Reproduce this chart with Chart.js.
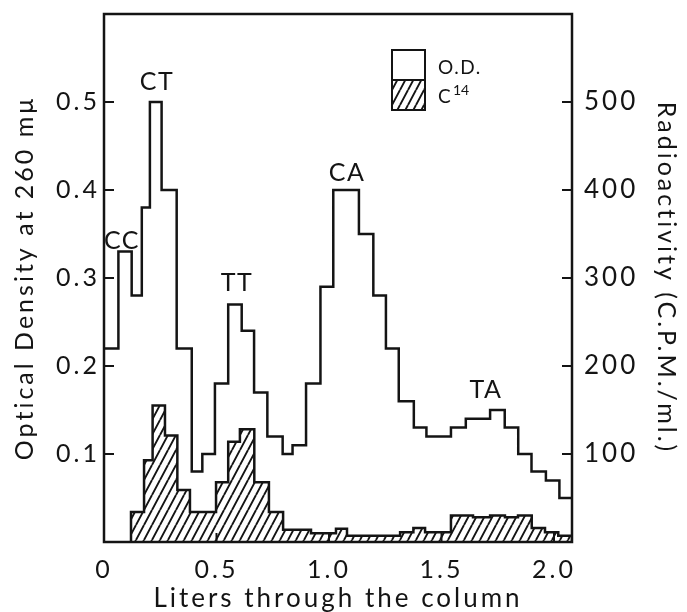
<!DOCTYPE html>
<html lang="en">
<head>
<meta charset="UTF-8">
<title>O.D. and C14 through the column</title>
<script src="https://cdn.jsdelivr.net/npm/chart.js"></script>
<style>
  html, body { margin: 0; padding: 0; background: #fff; }
  canvas { display: block; }
</style>
</head>
<body>
<canvas id="chart" width="687" height="612"></canvas>
<script>
// O.D. at 260 mu, bin edges in liters (one more edge than values)
const odEdges = [0, 0.064, 0.123, 0.168, 0.204, 0.256, 0.323, 0.390, 0.437, 0.493,
                 0.552, 0.612, 0.667, 0.726, 0.794, 0.838, 0.898, 0.962, 1.019, 1.133,
                 1.197, 1.253, 1.310, 1.377, 1.433, 1.542, 1.608, 1.716, 1.781, 1.841,
                 1.900, 1.964, 2.024, 2.08];
const odValues = [0.22, 0.33, 0.28, 0.38, 0.50, 0.40, 0.22, 0.08, 0.10, 0.18,
                  0.27, 0.24, 0.17, 0.12, 0.10, 0.11, 0.18, 0.29, 0.40, 0.35,
                  0.28, 0.22, 0.16, 0.13, 0.12, 0.13, 0.14, 0.15, 0.13, 0.10,
                  0.08, 0.07, 0.05];

// C14 radioactivity (C.P.M./ml.), bin edges in liters
const c14Edges = [0.120, 0.178, 0.216, 0.271, 0.326, 0.382, 0.498, 0.552, 0.604, 0.668,
                  0.733, 0.796, 0.920, 1.031, 1.080, 1.316, 1.375, 1.427, 1.542, 1.640,
                  1.716, 1.782, 1.840, 1.901, 1.960, 2.019, 2.080];
const c14Cpm = [34, 93, 155, 121, 59, 34, 68, 114, 128, 68,
                34, 14, 10, 15, 7, 11, 16, 11, 30, 28,
                30, 28, 30, 16, 11, 7];

const xTicks = [0, 0.5, 1.0, 1.5, 2.0];
const odTicks = [0.1, 0.2, 0.3, 0.4, 0.5];
const cpmTicks = [100, 200, 300, 400, 500];

// peak names and where they sit (liters, O.D.)
const peakNames = ['CC', 'CT', 'TT', 'CA', 'TA'];
const peakX = [0.080, 0.236, 0.591, 1.080, 1.698];
const peakY = [0.342, 0.523, 0.294, 0.419, 0.173];

const INK = '#141414';
Chart.defaults.font.family = 'Lato, "DejaVu Sans", sans-serif';
Chart.defaults.color = INK;

// diagonal hatching for the C14 bars
function makeHatch(ctx) {
    const tile = document.createElement('canvas');
    const w = 8, h = 15;
    tile.width = w; tile.height = h;
    const t = tile.getContext('2d');
    t.strokeStyle = INK;
    t.lineWidth = 1.9;
    t.beginPath();
    for (let k = -w; k <= w; k += w) {
        t.moveTo(k, h);
        t.lineTo(k + w, 0);
    }
    t.stroke();
    return ctx.createPattern(tile, 'repeat');
}

const canvas = document.getElementById('chart');
const hatch = makeHatch(canvas.getContext('2d'));

// stepped 'before': each segment keeps the previous point's value
const odPoints = odEdges.map((e, i) => ({x: e, y: odValues[Math.min(i, odValues.length - 1)]}));
const c14Points = [{x: c14Edges[0], y: 0}]
    .concat(c14Cpm.map((v, i) => ({x: c14Edges[i], y: v})))
    .concat([{x: c14Edges[c14Edges.length - 1], y: 0}]);

const noPad = s => { s.paddingTop = 0; s.paddingBottom = 0; s.paddingLeft = 0; s.paddingRight = 0; };

// frame, inward ticks, peak names and the little legend
const paperMarks = {
    id: 'paperMarks',
    beforeDraw(chart) {
        chart.ctx.letterSpacing = '3px';
    },
    afterDraw(chart) {
        const {ctx, chartArea: a, scales} = chart;
        ctx.save();
        ctx.strokeStyle = INK;
        ctx.fillStyle = INK;

        ctx.lineWidth = 2;
        ctx.beginPath();
        scales.x.ticks.forEach(t => {
            const px = scales.x.getPixelForValue(t.value);
            ctx.moveTo(px, a.bottom);
            ctx.lineTo(px, a.bottom - 9);
        });
        scales.y.ticks.forEach(t => {
            const py = scales.y.getPixelForValue(t.value);
            ctx.moveTo(a.left, py);
            ctx.lineTo(a.left + 10, py);
        });
        scales.y2.ticks.forEach(t => {
            const py = scales.y2.getPixelForValue(t.value);
            ctx.moveTo(a.right, py);
            ctx.lineTo(a.right - 10, py);
        });
        ctx.stroke();

        ctx.lineWidth = 2.5;
        ctx.strokeRect(a.left, a.top, a.right - a.left, a.bottom - a.top);

        ctx.letterSpacing = '1.5px';
        ctx.font = '25px Lato';
        ctx.textAlign = 'center';
        ctx.textBaseline = 'middle';
        peakNames.forEach((n, i) => {
            ctx.fillText(n, scales.x.getPixelForValue(peakX[i]), scales.y.getPixelForValue(peakY[i]));
        });

        // legend
        const lx = a.left + 288, ly = a.top + 36, bw = 33, bh = 30;
        ctx.fillStyle = '#fff';
        ctx.fillRect(lx, ly, bw, bh);
        ctx.fillStyle = hatch;
        ctx.fillRect(lx, ly + bh, bw, bh);
        ctx.lineWidth = 2;
        ctx.strokeRect(lx, ly, bw, bh * 2);
        ctx.beginPath();
        ctx.moveTo(lx, ly + bh);
        ctx.lineTo(lx + bw, ly + bh);
        ctx.stroke();
        ctx.fillStyle = INK;
        ctx.textAlign = 'left';
        ctx.letterSpacing = '1.5px';
        ctx.font = '19px Lato';
        ctx.fillText(chart.data.datasets[0].label, lx + 46, ly + 18);
        ctx.fillText('C', lx + 46, ly + bh + 17);
        ctx.letterSpacing = '0px';
        ctx.font = '14px Lato';
        ctx.fillText('14', lx + 61, ly + bh + 10);
        ctx.restore();
    }
};

new Chart(canvas, {
    type: 'line',
    data: {
        datasets: [{
            label: 'O.D.',
            data: odPoints,
            yAxisID: 'y',
            stepped: 'before',
            borderColor: INK,
            borderWidth: 2.5,
            borderJoinStyle: 'miter',
            pointRadius: 0,
            fill: false,
            order: 0
        }, {
            label: 'C14',
            data: c14Points,
            yAxisID: 'y2',
            stepped: 'before',
            borderColor: INK,
            borderWidth: 2.5,
            borderJoinStyle: 'miter',
            backgroundColor: hatch,
            pointRadius: 0,
            fill: 'origin',
            order: 1
        }]
    },
    options: {
        responsive: false,
        animation: false,
        layout: {padding: {top: 14, left: 0, right: 0, bottom: 0}},
        plugins: {legend: {display: false}, tooltip: {enabled: false}},
        scales: {
            x: {
                type: 'linear',
                min: 0,
                max: 2.08,
                afterBuildTicks: s => { s.ticks = xTicks.map(v => ({value: v})); },
                afterFit: s => { s.height = 70; noPad(s); },
                grid: {display: false, drawTicks: false},
                border: {display: false},
                ticks: {
                    padding: 13,
                    font: {size: 25},
                    callback: v => v === 0 ? '0' : v.toFixed(1)
                },
                title: {
                    display: true,
                    text: 'Liters through the column',
                    font: {size: 26, lineHeight: 1},
                    padding: {top: 0, bottom: 0}
                }
            },
            y: {
                position: 'left',
                min: 0,
                max: 0.6,
                afterBuildTicks: s => { s.ticks = odTicks.map(v => ({value: v})); },
                afterFit: s => { s.width = 104; noPad(s); },
                grid: {display: false, drawTicks: false},
                border: {display: false},
                ticks: {padding: 4, font: {size: 25}, callback: v => v.toFixed(1)},
                title: {
                    display: true,
                    text: 'Optical Density at 260 m\u03bc',
                    font: {size: 25},
                    padding: {top: 10, bottom: 0}
                }
            },
            y2: {
                position: 'right',
                min: 0,
                max: 600,
                afterBuildTicks: s => { s.ticks = cpmTicks.map(v => ({value: v})); },
                afterFit: s => { s.width = 115; noPad(s); },
                grid: {display: false, drawTicks: false},
                border: {display: false},
                ticks: {padding: 12, font: {size: 26}},
                title: {
                    display: true,
                    text: 'Radioactivity (C.P.M./ml.)',
                    font: {size: 25},
                    padding: {top: 6, bottom: 0}
                }
            }
        }
    },
    plugins: [paperMarks]
});
</script>
</body>
</html>
